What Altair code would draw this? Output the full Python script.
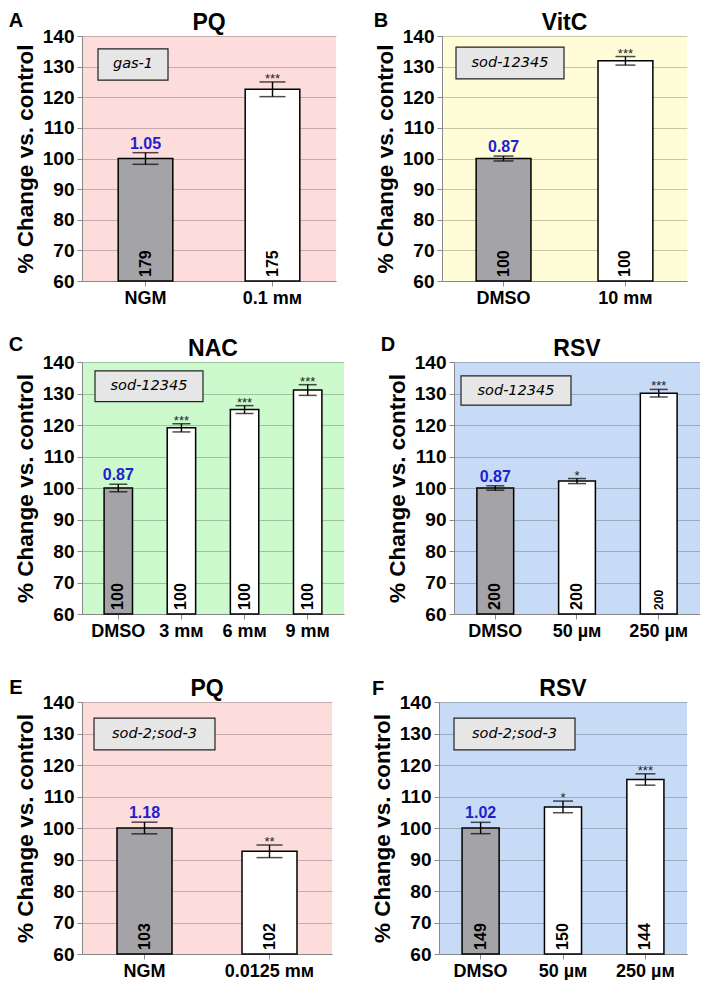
import altair as alt
import pandas as pd

FONT = "Liberation Sans, Arial, DejaVu Sans"
GENE_FONT = "DejaVu Sans"

# ---------------- data ----------------
# Panel A  (PQ, gas-1)
a_cats = ["NGM", "0.1 mᴍ"]
a_vals = [100.0, 122.6]
a_errs = [1.9, 2.4]
a_n = ["179", "175"]
a_nsize = [16, 16]
a_stars = ["", "***"]
a_ratio = "1.05"

# Panel B  (VitC, sod-12345)
b_cats = ["DMSO", "10 mᴍ"]
b_vals = [100.0, 131.9]
b_errs = [0.8, 1.4]
b_n = ["100", "100"]
b_nsize = [16, 16]
b_stars = ["", "***"]
b_ratio = "0.87"

# Panel C  (NAC, sod-12345)
c_cats = ["DMSO", "3 mᴍ", "6 mᴍ", "9 mᴍ"]
c_vals = [100.0, 119.1, 124.9, 131.1]
c_errs = [1.2, 1.3, 1.25, 1.7]
c_n = ["100", "100", "100", "100"]
c_nsize = [16, 16, 16, 16]
c_stars = ["", "***", "***", "***"]
c_ratio = "0.87"

# Panel D  (RSV, sod-12345)
d_cats = ["DMSO", "50 µᴍ", "250 µᴍ"]
d_vals = [100.0, 102.2, 130.1]
d_errs = [0.7, 0.8, 1.2]
d_n = ["200", "200", "200"]
d_nsize = [16, 16, 12]
d_stars = ["", "*", "***"]
d_ratio = "0.87"

# Panel E  (PQ, sod-2;sod-3)
e_cats = ["NGM", "0.0125 mᴍ"]
e_vals = [100.0, 92.6]
e_errs = [1.85, 2.0]
e_n = ["103", "102"]
e_nsize = [16, 16]
e_stars = ["", "**"]
e_ratio = "1.18"

# Panel F  (RSV, sod-2;sod-3)
f_cats = ["DMSO", "50 µᴍ", "250 µᴍ"]
f_vals = [100.0, 106.7, 115.4]
f_errs = [1.8, 1.85, 1.8]
f_n = ["149", "150", "144"]
f_nsize = [16, 16, 16]
f_stars = ["", "*", "***"]
f_ratio = "1.02"

Y_TICKS = [60, 70, 80, 90, 100, 110, 120, 130, 140]


def panel(letter, title, gene, cats, vals, errs, ns, nsize, stars, ratio,
          bg, box_y, box_x, width, height, pad_in, pad_out, cap, letter_xy):
    df = pd.DataFrame({
        "cat": cats,
        "val": vals,
        "lo": [v - e for v, e in zip(vals, errs)],
        "hi": [v + e for v, e in zip(vals, errs)],
        "n": ns,
        "nsize": nsize,
        "stars": stars,
        "ratio": [ratio] + [""] * (len(cats) - 1),
        "kind": ["control"] + ["treated"] * (len(cats) - 1),
    })
    yscale = alt.Scale(domain=[60, 140], zero=False, nice=False)
    yaxis = alt.Axis(values=Y_TICKS, title="% Change vs. control",
                     titleFontSize=22.5, labelFontSize=19, titlePadding=5,
                     labelPadding=3, grid=True, gridColor="#000000",
                     gridOpacity=0.22, gridWidth=1, tickSize=5,
                     labelOverlap=False, labelFontWeight="bold",
                     titleFontWeight="bold", labelFont=FONT, titleFont=FONT)
    xaxis = alt.Axis(title=None, labelAngle=0, labelFontSize=18, grid=False,
                     tickSize=5, labelPadding=3, labelFontWeight="bold",
                     labelFont=FONT, labelOverlap=False)
    xs = alt.Scale(paddingInner=pad_in, paddingOuter=pad_out)

    def X():
        return alt.X("cat:N", sort=cats, scale=xs, axis=xaxis)

    def Y(f):
        return alt.Y(f, scale=yscale, axis=yaxis)

    base = alt.Chart(df)
    bars = base.mark_bar(stroke="black", strokeWidth=1.5).encode(
        x=X(), y=Y("val:Q"), y2=alt.datum(60),
        fill=alt.Fill("kind:N", scale=alt.Scale(domain=["control", "treated"],
                                                range=["#a4a4a8", "#ffffff"]),
                      legend=None))
    err = base.mark_rule(color="black", strokeWidth=1.4).encode(
        x=X(), y=Y("lo:Q"), y2="hi:Q")
    cap_lo = base.mark_tick(color="black", thickness=1.5, size=cap).encode(
        x=X(), y=Y("lo:Q"))
    cap_hi = base.mark_tick(color="black", thickness=1.5, size=cap).encode(
        x=X(), y=Y("hi:Q"))
    ntext = base.mark_text(angle=270, align="left", baseline="middle",
                           font=FONT, fontWeight="bold", color="black").encode(
        x=X(), y=alt.YDatum(61.3, scale=yscale, axis=yaxis), text="n:N",
        size=alt.Size("nsize:Q", scale=None, legend=None))
    rtext = base.mark_text(baseline="alphabetic", dy=-4, font=FONT,
                           fontWeight="bold", fontSize=16,
                           color="#1f1fd0").encode(
        x=X(), y=Y("hi:Q"), text="ratio:N")
    stext = base.mark_text(baseline="alphabetic", dy=1, font=FONT,
                           fontSize=13, color="#222222").encode(
        x=X(), y=Y("hi:Q"), text="stars:N")

    bdf = pd.DataFrame({"y1": [box_y[0]], "y2": [box_y[1]],
                        "ym": [(box_y[0] + box_y[1]) / 2], "g": [gene]})
    box = alt.Chart(bdf).mark_rect(fill="#e6e6e6", stroke="#222222",
                                   strokeWidth=1.2).encode(
        x=alt.value(box_x[0]), x2=alt.value(box_x[1]),
        y=Y("y1:Q"), y2="y2:Q")
    gtext = alt.Chart(bdf).mark_text(font=GENE_FONT, fontStyle="italic",
                                     fontSize=14.5, color="black").encode(
        x=alt.value((box_x[0] + box_x[1]) / 2), y=Y("ym:Q"), text="g:N")

    ldf = pd.DataFrame({"t": [letter], "title": [title]})
    ltext = alt.Chart(ldf).mark_text(font=FONT, fontWeight="bold", fontSize=20,
                                     align="center", baseline="middle",
                                     color="black").encode(
        x=alt.value(letter_xy[0]), y=alt.value(letter_xy[1]), text="t:N")
    ttext = alt.Chart(ldf).mark_text(font=FONT, fontWeight="bold", fontSize=23,
                                     align="center", baseline="middle",
                                     color="black").encode(
        x=alt.value(width / 2), y=alt.value(-13), text="title:N")

    return alt.layer(bars, err, cap_lo, cap_hi, ntext, rtext, stext, box,
                     gtext, ltext, ttext).properties(
        width=width, height=height,
        view=alt.ViewBackground(fill=bg, stroke=None))


PINK = "#fddcdc"
YELLOW = "#fffdd8"
GREEN = "#ccfacc"
BLUE = "#c7dbf6"

pA = panel("A", "PQ", "gas-1", a_cats, a_vals, a_errs, a_n, a_nsize, a_stars,
           a_ratio, PINK, (135.8, 125.6), (16, 86), 254, 245, 0.57, 0.285, 26,
           (-66, -15))
pB = panel("B", "VitC", "sod-12345", b_cats, b_vals, b_errs, b_n, b_nsize,
           b_stars, b_ratio, YELLOW, (136.4, 126.0), (14, 122), 245, 245, 0.55,
           0.28, 20, (-61, -15))
pC = panel("C", "NAC", "sod-12345", c_cats, c_vals, c_errs, c_n, c_nsize,
           c_stars, c_ratio, GREEN, (137.2, 127.4), (13, 121), 262, 252, 0.55,
           0.35, 18, (-66, -17))
pD = panel("D", "RSV", "sod-12345", d_cats, d_vals, d_errs, d_n, d_nsize,
           d_stars, d_ratio, BLUE, (135.6, 126.3), (7, 117), 246, 252, 0.55,
           0.28, 18, (-66, -17))
pE = panel("E", "PQ", "sod-2;sod-3", e_cats, e_vals, e_errs, e_n, e_nsize,
           e_stars, e_ratio, PINK, (134.9, 124.8), (12, 133), 250, 252, 0.56,
           0.28, 26, (-66, -14))
pF = panel("F", "RSV", "sod-2;sod-3", f_cats, f_vals, f_errs, f_n, f_nsize,
           f_stars, f_ratio, BLUE, (134.9, 124.8), (15, 136), 248, 252, 0.55,
           0.28, 20, (-61, -13))

row1 = alt.hconcat(pA, pB, spacing=37)
row2 = alt.hconcat(pC, pD, spacing=36)
row3 = alt.hconcat(pE, pF, spacing=39)

chart = alt.vconcat(alt.vconcat(row1, row2, spacing=28), row3,
                    spacing=38).properties(
    padding={"left": 0, "top": 3, "right": 0, "bottom": 0}).configure_axis(
    domainColor="black", domainWidth=1.5, tickColor="black", tickWidth=1.5,
    labelColor="black", titleColor="black").configure_view(
    stroke=None).configure(background="white")

chart.save("out.html", embed_options={"renderer": "svg", "actions": False})
